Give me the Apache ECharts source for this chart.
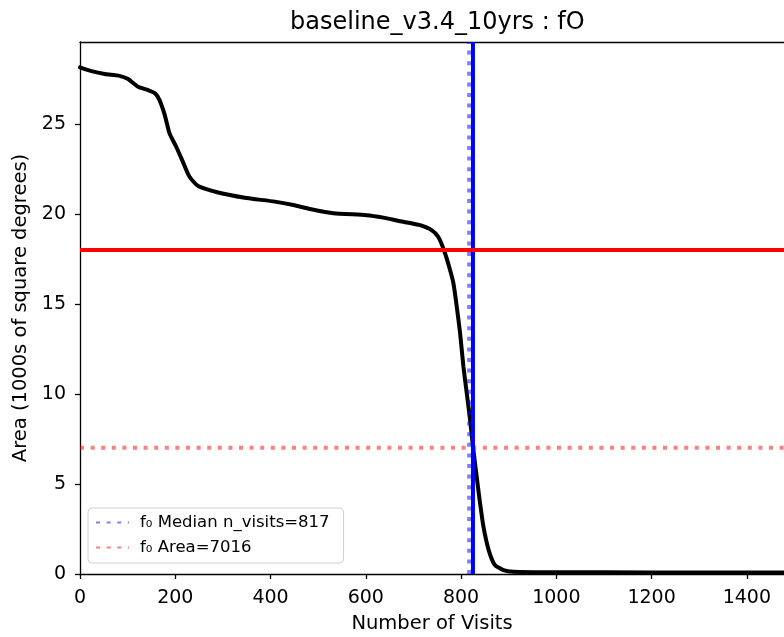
<!DOCTYPE html>
<html>
<head>
<meta charset="utf-8">
<script src="https://cdn.jsdelivr.net/npm/echarts@6/dist/echarts.min.js"></script>
<style>
  html, body { margin: 0; padding: 0; background: #fff; }
  #chart { width: 784px; height: 637px; }
</style>
</head>
<body>
<div id="chart"></div>
<script>
// curve: number of visits vs area (1000s of sq deg)
const visits = [0, 24, 52, 83, 101, 122, 143, 158, 167, 178, 188, 202, 216, 230, 248, 290, 346, 409, 448, 483, 532, 602, 637, 672, 693, 714, 738, 752, 764, 775, 784, 791, 798, 805, 812, 819, 825, 832, 839, 847, 858, 871, 889, 910, 1000, 1200, 1478]
const areaK = [28.15, 27.94, 27.78, 27.68, 27.5, 27.07, 26.89, 26.7, 26.33, 25.5, 24.48, 23.74, 22.9, 22.07, 21.56, 21.2, 20.91, 20.69, 20.5, 20.28, 20.04, 19.94, 19.8, 19.6, 19.5, 19.38, 19.11, 18.74, 18.0, 17.07, 16.15, 14.85, 13.37, 11.52, 10.04, 8.56, 7.07, 5.59, 4.11, 2.63, 1.33, 0.5, 0.22, 0.13, 0.1, 0.09, 0.08]

const xTicks = [0, 200, 400, 600, 800, 1000, 1200, 1400]
const yTicks = [0, 5, 10, 15, 20, 25]

const medianVisits = 817
const f0Area = 7.016
const targetVisits = 825
const targetArea = 18

const xMax = 1478
const yMax = 29.56

const font = "DejaVu Sans"
const medianName = "f\u2080 Median n_visits=" + medianVisits
const areaName = "f\u2080 Area=" + Math.round(f0Area * 1000)

const chart = echarts.init(document.getElementById("chart"), null, { renderer: "canvas" })

const option = {
  animation: false,
  textStyle: { fontFamily: font },
  title: {
    text: "baseline_v3.4_10yrs : fO",
    left: 285,
    top: 6,
    textStyle: { fontFamily: font, fontSize: 24, fontWeight: "normal", color: "#000" },
  },
  legend: {
    orient: "vertical",
    left: 88,
    top: 508,
    padding: [6, 14, 7, 7],
    itemWidth: 33,
    itemHeight: 18,
    itemGap: 8,
    borderColor: "#d0d0d0",
    borderWidth: 1,
    borderRadius: 4,
    backgroundColor: "rgba(255,255,255,0.8)",
    textStyle: { fontFamily: font, fontSize: 16.5, color: "#000", padding: [0, 0, 0, 6] },
    itemStyle: { opacity: 0 },
    data: [medianName, areaName],
  },
  grid: { left: 80, top: 42, right: 0, bottom: 63, outerBoundsMode: "none", containLabel: false },
  xAxis: [
    {
      type: "value",
      min: 0,
      max: xMax,
      name: "Number of Visits",
      nameLocation: "middle",
      nameGap: 40,
      nameTextStyle: { fontFamily: font, fontSize: 19.5, color: "#000" },
      axisLine: { show: true, onZero: false, lineStyle: { color: "#000", width: 1.3 } },
      axisTick: { show: true, length: 5, lineStyle: { color: "#000", width: 1.3 }, customValues: xTicks },
      axisLabel: { fontFamily: font, fontSize: 19, color: "#000", margin: 15, customValues: xTicks, formatter: (v) => String(v) },
      splitLine: { show: false },
    },
    {
      type: "value",
      position: "top",
      min: 0,
      max: xMax,
      axisLine: { show: true, onZero: false, lineStyle: { color: "#000", width: 1.3 } },
      axisTick: { show: false },
      axisLabel: { show: false },
      splitLine: { show: false },
    },
  ],
  yAxis: {
    type: "value",
    min: 0,
    max: yMax,
    name: "Area (1000s of square degrees)",
    nameLocation: "middle",
    nameGap: 47,
    nameTextStyle: { fontFamily: font, fontSize: 19.5, color: "#000" },
    axisLine: { show: true, onZero: false, lineStyle: { color: "#000", width: 1.3 } },
    axisTick: { show: true, length: 5, lineStyle: { color: "#000", width: 1.3 }, customValues: yTicks },
    axisLabel: { fontFamily: font, fontSize: 19, color: "#000", margin: 14, customValues: yTicks, formatter: (v) => String(v) },
    splitLine: { show: false },
  },
  series: [
    {
      name: "area",
      type: "line",
      data: visits.map((v, i) => [v, areaK[i]]),
      showSymbol: false,
      symbol: "none",
      smooth: 0.2,
      lineStyle: { color: "#000", width: 4, cap: "round", join: "round" },
      z: 2,
    },
    {
      name: medianName,
      type: "line",
      data: [[medianVisits, 0], [medianVisits, yMax]],
      symbol: "none",
      color: "rgba(0,0,255,0.5)",
      lineStyle: { color: "rgba(0,0,255,0.5)", width: 4, type: [4, 6.6], cap: "butt" },
      z: 3,
    },
    {
      name: areaName,
      type: "line",
      data: [[0, f0Area], [xMax, f0Area]],
      symbol: "none",
      color: "rgba(255,0,0,0.5)",
      lineStyle: { color: "rgba(255,0,0,0.5)", width: 4, type: [4, 6.6], cap: "butt" },
      z: 3,
    },
    {
      name: "target visits",
      type: "line",
      data: [[targetVisits, 0], [targetVisits, yMax]],
      symbol: "none",
      lineStyle: { color: "#0000ff", width: 4 },
      z: 4,
    },
    {
      name: "target area",
      type: "line",
      data: [[0, targetArea], [xMax, targetArea]],
      symbol: "none",
      lineStyle: { color: "#ff0000", width: 4 },
      z: 4,
    },
  ],
}

chart.setOption(option)
</script>
</body>
</html>
